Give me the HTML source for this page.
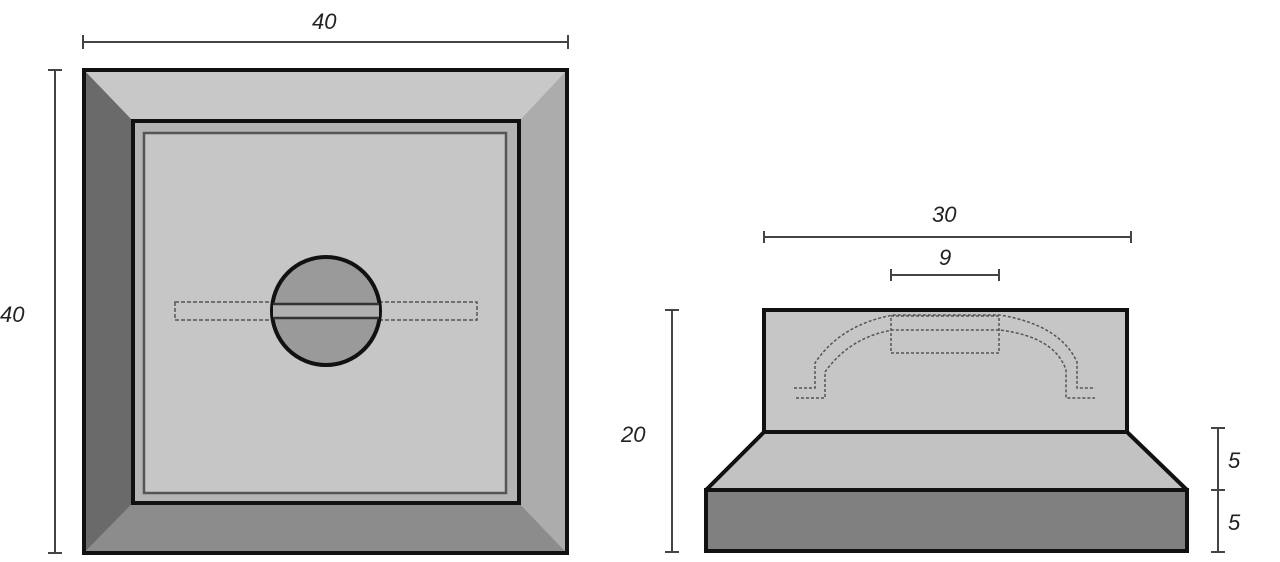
<!DOCTYPE html>
<html><head><style>html,body{margin:0;padding:0;background:#fff;}svg{display:block}</style></head>
<body>
<svg width="1280" height="562" viewBox="0 0 1280 562" xmlns="http://www.w3.org/2000/svg" font-family="Liberation Sans, sans-serif" font-style="italic" font-size="22" fill="#222">
<!-- dimensions -->
<g stroke="#444" stroke-width="2">
<line x1="83" y1="42" x2="568" y2="42"/><line x1="83" y1="35" x2="83" y2="49"/><line x1="568" y1="35" x2="568" y2="49"/>
<line x1="55" y1="70" x2="55" y2="553"/><line x1="48" y1="70" x2="62" y2="70"/><line x1="48" y1="553" x2="62" y2="553"/>
<line x1="764" y1="237" x2="1131" y2="237"/><line x1="764" y1="231" x2="764" y2="243"/><line x1="1131" y1="231" x2="1131" y2="243"/>
<line x1="891" y1="275" x2="999" y2="275"/><line x1="891" y1="269" x2="891" y2="281"/><line x1="999" y1="269" x2="999" y2="281"/>
<line x1="672" y1="310" x2="672" y2="552"/><line x1="665" y1="310" x2="679" y2="310"/><line x1="665" y1="552" x2="679" y2="552"/>
<line x1="1218" y1="428" x2="1218" y2="552"/><line x1="1211" y1="428" x2="1225" y2="428"/><line x1="1211" y1="490" x2="1225" y2="490"/><line x1="1211" y1="552" x2="1225" y2="552"/>
</g>
<text x="312" y="29">40</text>
<text x="0" y="322">40</text>
<text x="932" y="222">30</text>
<text x="939" y="265">9</text>
<text x="621" y="442">20</text>
<text x="1228" y="468">5</text>
<text x="1228" y="530">5</text>
<!-- left square -->
<polygon points="84,70 567,70 519,121 133,121" fill="#c8c8c8"/>
<polygon points="567,70 567,553 519,503 519,121" fill="#acacac"/>
<polygon points="84,553 567,553 519,503 133,503" fill="#8c8c8c"/>
<polygon points="84,70 133,121 133,503 84,553" fill="#6a6a6a"/>
<rect x="84" y="70" width="483" height="483" fill="none" stroke="#111" stroke-width="4"/>
<rect x="133" y="121" width="386" height="382" fill="#b4b4b4" stroke="#111" stroke-width="4"/>
<rect x="144" y="133" width="362" height="360" fill="#c6c6c6" stroke="#555" stroke-width="2.5"/>
<rect x="175" y="302" width="302" height="18" fill="none" stroke="#555" stroke-width="1.5" stroke-dasharray="4,2"/>
<circle cx="326" cy="311" r="54" fill="#9a9a9a" stroke="#111" stroke-width="4"/>
<rect x="273" y="304" width="106" height="14" fill="#b0b0b0"/>
<line x1="273" y1="304" x2="379" y2="304" stroke="#333" stroke-width="2.5"/>
<line x1="273" y1="318" x2="379" y2="318" stroke="#333" stroke-width="2.5"/>
<!-- right view -->
<rect x="764" y="310" width="363" height="122" fill="#c6c6c6" stroke="#111" stroke-width="4"/>
<polygon points="764,432 1127,432 1187,490 706,490" fill="#c2c2c2" stroke="#111" stroke-width="4" stroke-linejoin="round"/>
<rect x="706" y="490" width="481" height="61" fill="#808080" stroke="#111" stroke-width="4"/>
<g fill="none" stroke="#555" stroke-width="1.5" stroke-dasharray="3,2">
<path d="M794,388 L815,388 L815,363 Q840,325 893,315 L1000,315 Q1060,325 1077,362 L1077,388 L1095,388"/>
<path d="M796,398 L825,398 L825,372 Q850,337 893,330 L1000,330 Q1055,337 1066,370 L1066,398 L1095,398"/>
<rect x="891" y="316" width="108" height="37"/>
</g>
</svg>
</body></html>
